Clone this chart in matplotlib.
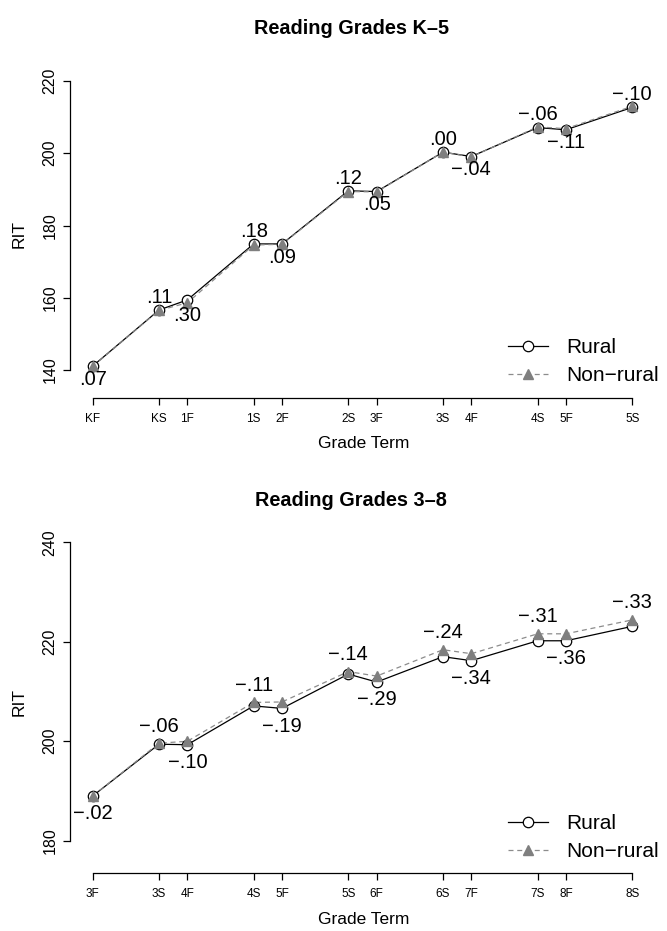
import matplotlib
matplotlib.use("Agg")
import matplotlib.pyplot as plt

plt.rcParams['font.family'] = ['Liberation Sans', 'DejaVu Sans']

# ---------------- data ----------------
terms_k5 = ["KF", "KS", "1F", "1S", "2F", "2S", "3F", "3S", "4F", "4S", "5F", "5S"]
rural_k5 = [141.1, 156.6, 159.4, 174.9, 174.9, 189.6, 189.4, 200.3, 199.1, 207.1, 206.5, 212.7]
nonrural_k5 = [141.0, 156.5, 158.6, 174.6, 174.8, 189.4, 189.3, 200.3, 199.0, 207.3, 206.8, 213.0]
es_k5 = [0.07, 0.11, 0.30, 0.18, 0.09, 0.12, 0.05, 0.00, -0.04, -0.06, -0.11, -0.10]

terms_38 = ["3F", "3S", "4F", "4S", "5F", "5S", "6F", "6S", "7F", "7S", "8F", "8S"]
rural_38 = [189.0, 199.4, 199.3, 207.1, 206.6, 213.5, 211.9, 217.0, 216.2, 220.2, 220.2, 223.1]
nonrural_38 = [189.0, 199.6, 200.0, 207.8, 207.9, 214.0, 213.1, 218.4, 217.6, 221.6, 221.6, 224.4]
es_38 = [-0.02, -0.06, -0.10, -0.11, -0.19, -0.14, -0.29, -0.24, -0.34, -0.31, -0.36, -0.33]

titles = ["Reading Grades K\u20135", "Reading Grades 3\u20138"]
yticks_k5 = [140, 160, 180, 200, 220]
yticks_38 = [180, 200, 220, 240]
legend_labels = ["Rural", "Non\u2212rural"]

W, H = 667, 931
fig = plt.figure(figsize=(W / 100, H / 100), dpi=100)


def term_month(t):
    # months since first fall: fall = 0, spring = +7, next grade = +10
    g = 0 if t[0] == "K" else int(t[0])
    return g * 10 + (7 if t[1] == "S" else 0)


def fmt_es(v):
    s = "%.2f" % abs(v)
    s = s[1:]  # drop leading zero
    return ("\u2212" if v < 0 else "") + s


def panel(rect_px, ylim, terms, rural, nonrural, es, yticks, title, title_y, xlabel_y, legend_top):
    l, t, r, b = rect_px
    ax = fig.add_axes([l / W, 1 - b / H, (r - l) / W, (b - t) / H])
    base = term_month(terms[0])
    x = [term_month(tt) - base for tt in terms]
    ax.set_xlim(-2.4, 59.4)
    ax.set_ylim(*ylim)

    ax.plot(x, rural, '-', color='black', lw=0.9, zorder=2)
    ax.plot(x, nonrural, '--', color='#8c8c8c', lw=0.9, dashes=(4, 3), zorder=2)
    ax.plot(x, rural, 'o', mfc='white', mec='black', mew=0.9, ms=7.5, zorder=3, ls='none')
    ax.plot(x, nonrural, '^', color='#7f7f7f', mec='#7f7f7f', ms=7.5, zorder=4, ls='none')

    for xi, t_, r_, n_, e in zip(x, terms, rural, nonrural, es):
        if t_[1] == "S":
            yy = max(r_, n_) + 3.4
        else:
            yy = min(r_, n_) - 3.6
        ax.text(xi, yy, fmt_es(e), ha='center', va='center', fontsize=14.5, zorder=5)

    for s in ['top', 'right']:
        ax.spines[s].set_visible(False)
    ax.spines['left'].set_bounds(yticks[0], yticks[-1])
    ax.spines['bottom'].set_bounds(x[0], x[-1])
    for s in ['left', 'bottom']:
        ax.spines[s].set_linewidth(0.9)
    ax.set_xticks(x)
    ax.set_xticklabels(terms, fontsize=8.5)
    ax.set_yticks(yticks)
    ax.set_yticklabels([str(v) for v in yticks], fontsize=11.5, rotation=90, va='center')
    ax.tick_params(axis='both', direction='out', length=5, width=0.9)
    ax.tick_params(axis='x', pad=6)
    ax.tick_params(axis='y', pad=4)
    fig.text(19 / W, 1 - ((t + b) / 2) / H, "RIT", rotation=90, ha='center', va='center', fontsize=12.5)
    fig.text(364 / W, 1 - xlabel_y / H, "Grade Term", ha='center', va='center', fontsize=12.5)
    fig.text(351 / W, 1 - title_y / H, title, ha='center', va='center', fontsize=14.3, fontweight='bold')

    h1, = ax.plot([], [], '-', color='black', lw=0.9, marker='o', mfc='white', mec='black', ms=7.5, mew=0.9)
    h2, = ax.plot([], [], '--', color='#8c8c8c', lw=0.9, dashes=(4, 3), marker='^', mfc='#7f7f7f',
                  mec='#7f7f7f', ms=7.5)
    ax.legend([h1, h2], legend_labels, loc='upper left',
              bbox_to_anchor=(508 / W, 1 - legend_top / H), bbox_transform=fig.transFigure,
              frameon=False, fontsize=15, handlelength=1.9, handletextpad=0.9,
              labelspacing=0.45, borderpad=0, borderaxespad=0)
    return ax


# top panel: y 220 -> px 81, 140 -> px 370
ppu1 = (370 - 81) / 80.0
top1, bot1 = 70, 398
ylim1 = (140 - (bot1 - 370) / ppu1, 220 + (81 - top1) / ppu1)
panel((70, top1, 655, bot1), ylim1, terms_k5, rural_k5, nonrural_k5, es_k5, yticks_k5,
      titles[0], 28, 443, 338)

# bottom panel: y 240 -> px 542.3, 180 -> px 840.7
ppu2 = (840.7 - 542.3) / 60.0
top2, bot2 = 530, 873
ylim2 = (180 - (bot2 - 840.7) / ppu2, 240 + (542.3 - top2) / ppu2)
panel((70, top2, 655, bot2), ylim2, terms_38, rural_38, nonrural_38, es_38, yticks_38,
      titles[1], 501, 920, 814)

fig.savefig("out.png", dpi=100)
